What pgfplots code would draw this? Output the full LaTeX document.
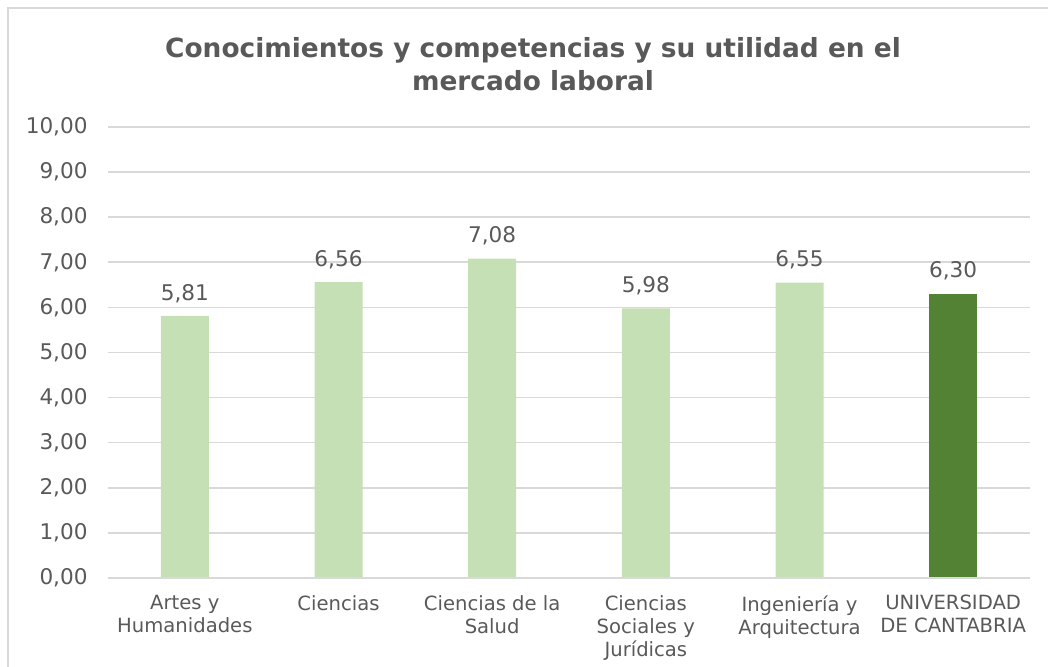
\documentclass[border=0pt]{standalone}
\usepackage{pgfplots}
\pgfplotsset{compat=1.18}
\usepackage{fontspec}
\setmainfont{DejaVu Sans}
\definecolor{lightg}{HTML}{C5E0B4}
\definecolor{darkg}{HTML}{548235}
\definecolor{gridc}{HTML}{D9D9D9}
\definecolor{txt}{HTML}{595959}
\begin{document}
\begin{tikzpicture}
\useasboundingbox (0,0) rectangle (524pt,333.5pt);
\draw[gridc, line width=0.8pt] (4pt,-5pt) -- (4pt,329.5pt) -- (530pt,329.5pt);
\node[align=center, text=txt, font=\fontsize{13.2pt}{16.5pt}\selectfont\bfseries] at (266.5pt,301.5pt)
  {Conocimientos y competencias y su utilidad en el\\mercado laboral};
\begin{axis}[
  at={(54pt,44.5pt)}, anchor=south west,
  scale only axis, width=461pt, height=225.5pt,
  xmin=-0.5, xmax=5.5, ymin=0, ymax=10,
  ytick={0,1,...,10},
  xtick={0,1,2,3,4,5},
  xticklabels={{Artes y\\Humanidades},{Ciencias},{Ciencias de la\\Salud},{Ciencias\\Sociales y\\Jurídicas},{Ingeniería y\\Arquitectura},{UNIVERSIDAD\\DE CANTABRIA}},
  axis line style={draw=none},
  ymajorgrids, grid style={gridc, line width=0.8pt},
  major tick length=0pt,
  /pgf/number format/assume math mode=true,
  yticklabel={\pgfmathprintnumber[use comma, fixed, fixed zerofill, precision=2]{\tick}},
  yticklabel style={anchor=east, inner sep=0pt, xshift=-10pt, text=txt, font=\fontsize{10.8pt}{13pt}\selectfont},
  xticklabel style={align=center, anchor=north, inner sep=0pt, yshift=-8.5pt, text=txt, font=\fontsize{9.8pt}{11.5pt}\selectfont},
  ybar, bar width=24pt,
  nodes near coords={\pgfmathprintnumber[use comma, fixed, fixed zerofill, precision=2]{\pgfplotspointmeta}},
  nodes near coords style={anchor=south, inner sep=0pt, yshift=6.5pt, text=txt, font=\fontsize{10.8pt}{13pt}\selectfont},
  clip=false,
]
\addplot[fill=lightg, draw=none, bar shift=0pt] coordinates {(0,5.81) (1,6.56) (2,7.08) (3,5.98) (4,6.55)};
\addplot[fill=darkg, draw=none, bar shift=0pt] coordinates {(5,6.30)};
\draw[gridc, line width=0.8pt] (axis cs:-0.5,0) -- (axis cs:5.5,0);
\end{axis}
\end{tikzpicture}
\end{document}
